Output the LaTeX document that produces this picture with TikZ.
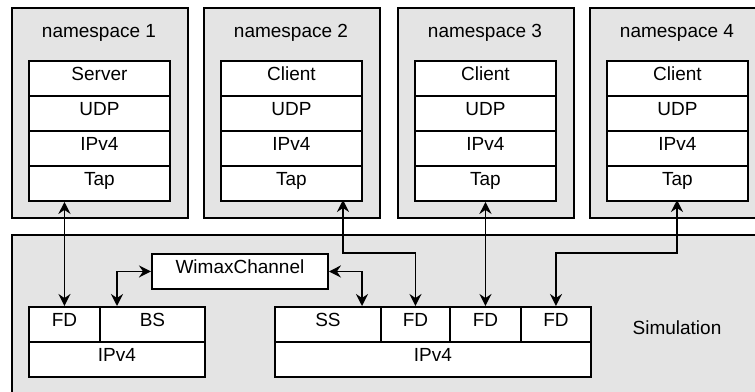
\documentclass[tikz,border=0pt]{standalone}
\usepackage{fontspec}
\setmainfont{Liberation Sans}
\usetikzlibrary{arrows.meta}
\definecolor{panelgray}{RGB}{228,228,228}
\begin{document}
\begin{tikzpicture}[x=1pt,y=-1pt,line width=1.9pt,
  txt/.style={font=\fontsize{19}{22}\selectfont},
  panel/.style={draw,fill=panelgray,inner sep=0pt,anchor=north west},
  cell/.style={draw,fill=white,inner sep=0pt,anchor=north west,
    text height=13pt,text depth=9pt,minimum height=35pt,txt},
  tip/.style={Stealth[length=12pt,width=12pt,inset=4pt]},
  link/.style={{Stealth[length=12pt,width=12pt,inset=4pt]}-{Stealth[length=12pt,width=12pt,inset=4pt]},line width=1.9pt}]
\useasboundingbox (0,0) rectangle (755,391);

% namespaces with their protocol stacks
\foreach \i/\x/\app in {1/11/Server,2/203/Client,3/397/Client,4/589/Client}{
  \node[panel,minimum width=176pt,minimum height=210pt] (ns\i) at (\x,7) {};
  \node[txt,anchor=base] (title\i) at (\x+88,37) {namespace \i};
  \node[cell,minimum width=141pt] (app\i) at (\x+17,60) {\app};
  \node[cell,minimum width=141pt] (udp\i) at (\x+17,95) {UDP};
  \node[cell,minimum width=141pt] (ipns\i) at (\x+17,130) {IPv4};
  \node[cell,minimum width=141pt] (tap\i) at (\x+17,165) {Tap};
}

% simulation area
\node[panel,minimum width=770pt,minimum height=180pt] (sim) at (11,234) {};
\node[txt,anchor=base] (simlabel) at (677,334) {Simulation};

\node[cell,minimum width=176pt] (wimax) at (151,253) {WimaxChannel};

% base station node
\node[cell,minimum width=71pt] (fdL) at (28,306) {FD};
\node[cell,minimum width=105pt] (bs) at (99,306) {BS};
\node[cell,minimum width=176pt] (ipL) at (28,341) {IPv4};

% subscriber station node
\node[cell,minimum width=106pt] (ss) at (274,306) {SS};
\node[cell,minimum width=69pt] (fdA) at (380,306) {FD};
\node[cell,minimum width=71pt] (fdB) at (449,306) {FD};
\node[cell,minimum width=70pt] (fdC) at (520,306) {FD};
\node[cell,minimum width=316pt] (ipR) at (274,341) {IPv4};

% connector ends
\coordinate (bsin) at (117,306);
\coordinate (ssin) at (362,306);
\coordinate (out2) at (343,200);
\coordinate (out4) at (677,200);

\draw[link] (fdL.north |- tap1.south) -- (fdL.north);
\draw[link] (wimax.west) -| (bsin);
\draw[link] (wimax.east) -| (ssin);
\draw[link] (out2) -- ++(0,53) -| (fdA.north);
\draw[link] (fdB.north |- tap3.south) -- (fdB.north);
\draw[link] (out4) -- ++(0,53) -| (fdC.north);
\end{tikzpicture}
\end{document}
